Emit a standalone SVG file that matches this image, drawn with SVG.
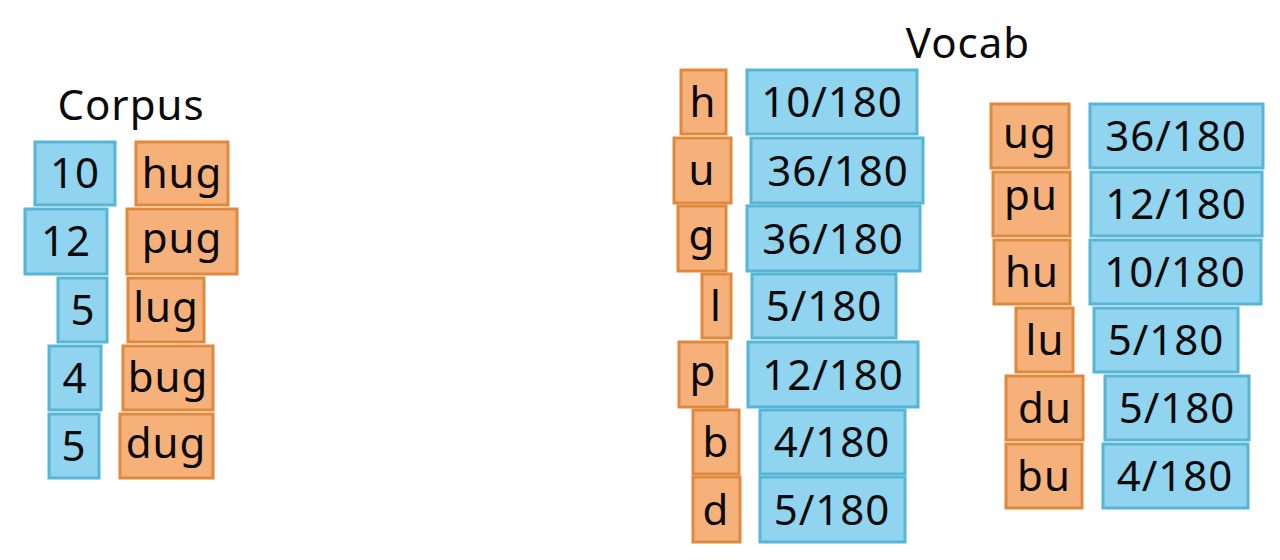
<svg xmlns="http://www.w3.org/2000/svg" width="1280" height="560" viewBox="0 0 1280 560">
<style>
.b{fill:#90d4ef;stroke:#57b5d6;stroke-width:3}
.o{fill:#f6b17b;stroke:#e0893c;stroke-width:3}
text{font-family:"Noto Sans","Open Sans","Liberation Sans",sans-serif;font-size:42px;fill:#0a0a0a;text-anchor:middle;letter-spacing:1px}
.t{font-size:42px}
</style>
<rect width="1280" height="560" fill="#fff"/>
<text class="t" x="131" y="120">Corpus</text>
<text class="t" x="968" y="58">Vocab</text>
<g id="corpus">
<g id="c10"><rect class="b" x="35" y="142" width="80" height="63"/><text x="75" y="188">10</text></g>
<g id="chug"><rect class="o" x="136" y="142" width="92" height="63"/><text x="182" y="188">hug</text></g>
<g id="c12"><rect class="b" x="25" y="209" width="82" height="65"/><text x="66" y="256">12</text></g>
<g id="cpug"><rect class="o" x="127" y="209" width="110" height="65"/><text x="182" y="253">pug</text></g>
<g id="c5a"><rect class="b" x="58" y="278" width="49" height="64"/><text x="83" y="325">5</text></g>
<g id="clug"><rect class="o" x="128" y="278" width="76" height="64"/><text x="166" y="322">lug</text></g>
<g id="c4"><rect class="b" x="49" y="346" width="52" height="64"/><text x="75" y="393">4</text></g>
<g id="cbug"><rect class="o" x="123" y="346" width="90" height="64"/><text x="168" y="392">bug</text></g>
<g id="c5b"><rect class="b" x="49" y="414" width="50" height="64"/><text x="74" y="461">5</text></g>
<g id="cdug"><rect class="o" x="120" y="414" width="93" height="64"/><text x="166" y="458">dug</text></g>
</g>
<g id="vocab1">
<g id="vh"><rect class="o" x="681" y="70" width="45" height="64"/><text x="703" y="117">h</text></g>
<g id="vh_p"><rect class="b" x="747" y="70" width="170" height="64"/><text x="832" y="117">10/180</text></g>
<g id="vu"><rect class="o" x="674" y="138" width="57" height="65"/><text x="702" y="185">u</text></g>
<g id="vu_p"><rect class="b" x="751" y="138" width="172" height="65"/><text x="838" y="186">36/180</text></g>
<g id="vg"><rect class="o" x="678" y="206" width="48" height="65"/><text x="702" y="250">g</text></g>
<g id="vg_p"><rect class="b" x="747" y="206" width="173" height="65"/><text x="833" y="254">36/180</text></g>
<g id="vl"><rect class="o" x="702" y="274" width="29" height="64"/><text x="716" y="321">l</text></g>
<g id="vl_p"><rect class="b" x="752" y="274" width="144" height="64"/><text x="824" y="321">5/180</text></g>
<g id="vp"><rect class="o" x="679" y="342" width="48" height="65"/><text x="703" y="386">p</text></g>
<g id="vp_p"><rect class="b" x="748" y="342" width="170" height="65"/><text x="833" y="390">12/180</text></g>
<g id="vb"><rect class="o" x="693" y="410" width="46" height="64"/><text x="716" y="457">b</text></g>
<g id="vb_p"><rect class="b" x="760" y="410" width="145" height="64"/><text x="832" y="457">4/180</text></g>
<g id="vd"><rect class="o" x="693" y="477" width="47" height="65"/><text x="716" y="525">d</text></g>
<g id="vd_p"><rect class="b" x="760" y="477" width="145" height="65"/><text x="832" y="525">5/180</text></g>
</g>
<g id="vocab2">
<g id="wug"><rect class="o" x="991" y="104" width="78" height="64"/><text x="1030" y="148">ug</text></g>
<g id="wug_p"><rect class="b" x="1090" y="104" width="173" height="64"/><text x="1176" y="151">36/180</text></g>
<g id="wpu"><rect class="o" x="993" y="172" width="77" height="64"/><text x="1031" y="210">pu</text></g>
<g id="wpu_p"><rect class="b" x="1091" y="172" width="171" height="64"/><text x="1176" y="219">12/180</text></g>
<g id="whu"><rect class="o" x="994" y="240" width="76" height="64"/><text x="1032" y="287">hu</text></g>
<g id="whu_p"><rect class="b" x="1090" y="240" width="171" height="64"/><text x="1175" y="287">10/180</text></g>
<g id="wlu"><rect class="o" x="1016" y="308" width="57" height="64"/><text x="1045" y="355">lu</text></g>
<g id="wlu_p"><rect class="b" x="1094" y="308" width="144" height="64"/><text x="1166" y="355">5/180</text></g>
<g id="wdu"><rect class="o" x="1006" y="376" width="77" height="64"/><text x="1045" y="423">du</text></g>
<g id="wdu_p"><rect class="b" x="1105" y="376" width="144" height="64"/><text x="1177" y="423">5/180</text></g>
<g id="wbu"><rect class="o" x="1006" y="444" width="76" height="64"/><text x="1044" y="491">bu</text></g>
<g id="wbu_p"><rect class="b" x="1103" y="444" width="145" height="64"/><text x="1175" y="491">4/180</text></g>
</g>
</svg>
